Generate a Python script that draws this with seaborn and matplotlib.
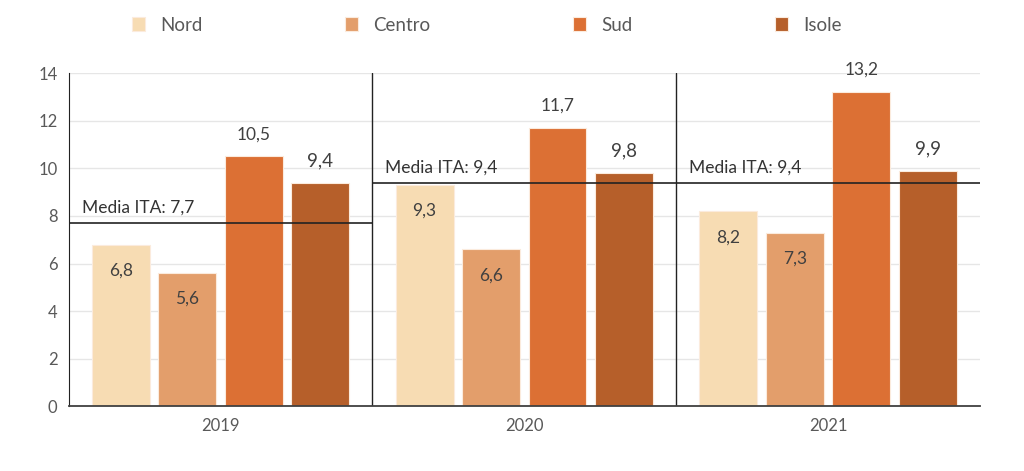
import numpy as np
import pandas as pd
import matplotlib
matplotlib.use("Agg")
import matplotlib.pyplot as plt
import seaborn as sns

years = ["2019", "2020", "2021"]
areas = ["Nord", "Centro", "Sud", "Isole"]
nord = [6.8, 9.3, 8.2]
centro = [5.6, 6.6, 7.3]
sud = [10.5, 11.7, 13.2]
isole = [9.4, 9.8, 9.9]
media_ita = [7.7, 9.4, 9.4]

colors = ["#F7DCB3", "#E39E6B", "#DC7034", "#B65F2A"]

df = pd.DataFrame({
    "anno": years * 4,
    "area": [a for a in areas for _ in years],
    "valore": nord + centro + sud + isole,
})

sns.set_style("white")
plt.rcParams["font.family"] = ["Lato", "DejaVu Sans"]

fig, ax = plt.subplots(figsize=(10.24, 4.71), dpi=100)
fig.subplots_adjust(left=0.067, right=0.957, top=0.845, bottom=0.137)

sns.barplot(data=df, x="anno", y="valore", hue="area", order=years,
            hue_order=areas, palette=colors, saturation=1, width=0.875, gap=0.13,
            edgecolor="#FBEBDD", linewidth=0.8, ax=ax, legend=True)

ax.set_ylim(0, 14)
ax.set_xlim(-0.5, 2.5)
ax.set_yticks(range(0, 15, 2))
ax.yaxis.grid(True, color="#E6E6E6", linewidth=1)
ax.set_axisbelow(True)
ax.set_xlabel("")
ax.set_ylabel("")
ax.tick_params(axis="both", length=0, labelsize=12, colors="#595959", pad=8)
sns.despine(ax=ax, top=True, right=True)
ax.spines["left"].set_color("#222222")
ax.spines["bottom"].set_color("#404040")
ax.spines["bottom"].set_linewidth(1.3)

# separatori tra gli anni
for x in [0.5, 1.5]:
    ax.axvline(x, color="#222222", linewidth=1)

# media Italia
for i, m in enumerate(media_ita):
    ax.hlines(m, i - 0.5, i + 0.5, color="#222222", linewidth=1.2)
    ax.annotate(f"Media ITA: {m:.1f}".replace(".", ","), xy=(i - 0.5, m),
                xytext=(13, 7), textcoords="offset pixels",
                ha="left", va="bottom", fontsize=12.5, color="#333333")

# etichette valori
for k, cont in enumerate(ax.containers):
    for bar in cont:
        h = bar.get_height()
        xc = bar.get_x() + bar.get_width() / 2
        txt = f"{h:.1f}".replace(".", ",")
        if k < 2:
            ax.annotate(txt, xy=(xc, h), xytext=(0, -26), textcoords="offset pixels",
                        ha="center", va="center", fontsize=12.5, color="#404040")
        else:
            ax.annotate(txt, xy=(xc, h), xytext=(0, 22), textcoords="offset pixels",
                        ha="center", va="center",
                        fontsize=12.5 if k == 2 else 13.5, color="#404040")

leg = ax.legend(loc="upper center", bbox_to_anchor=(0.459, 1.22), ncol=4,
                frameon=False, fontsize=13.5, handlelength=0.7, handleheight=0.7,
                columnspacing=7.6, handletextpad=0.8)
for t in leg.get_texts():
    t.set_color("#595959")

fig.savefig("out.png", dpi=100)
